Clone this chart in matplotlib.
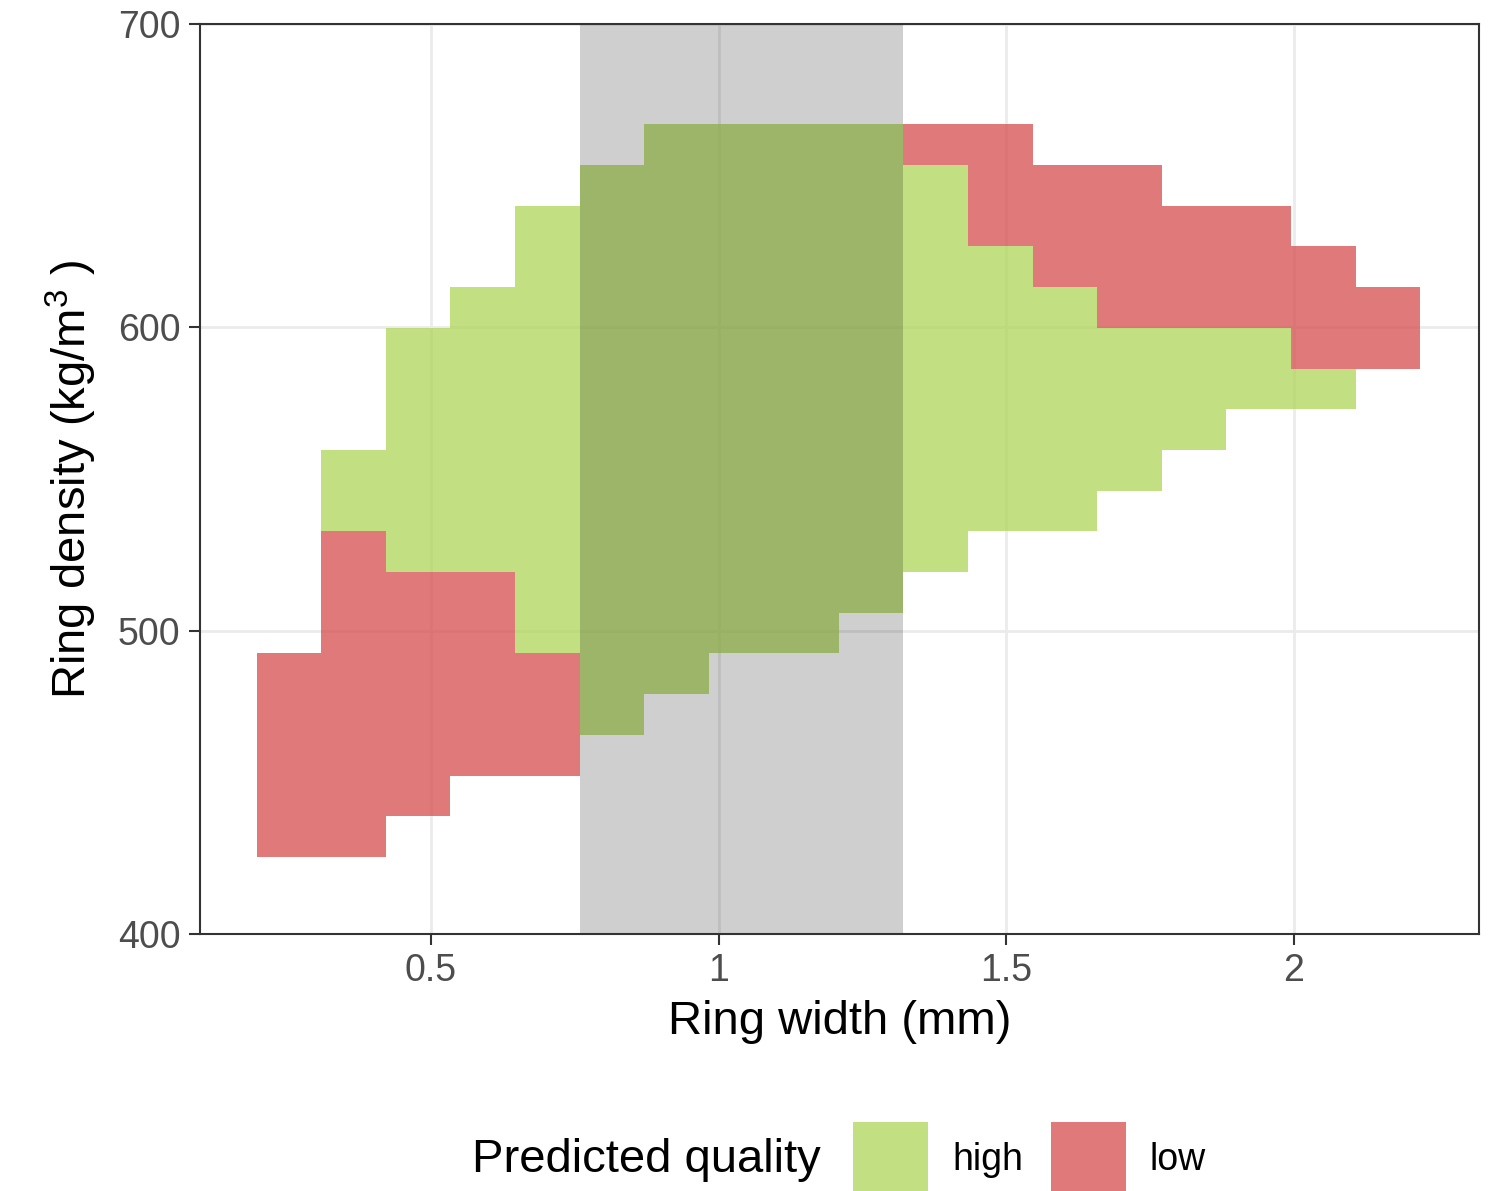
import matplotlib.pyplot as plt
from matplotlib.patches import Rectangle

plt.rcParams["font.family"] = ["Liberation Sans", "DejaVu Sans"]
plt.rcParams["mathtext.fontset"] = "custom"
plt.rcParams["mathtext.rm"] = "Liberation Sans"

# ── Data ──────────────────────────────────────────────────────────────────
# edges of the prediction grid (ring width in mm, ring density in kg/m3)
width_edges = [0.197, 0.309, 0.422, 0.534, 0.647, 0.759, 0.871, 0.984, 1.096, 1.209,
               1.321, 1.433, 1.546, 1.658, 1.771, 1.883, 1.995, 2.108, 2.220]
density_edges = [425.4, 438.8, 452.2, 465.7, 479.1, 492.5, 505.9, 519.3, 532.8, 546.2,
                 559.6, 573.0, 586.4, 599.9, 613.3, 626.7, 640.1, 653.5, 667.0]

# per width bin: (first, last) density bin predicted as "high" / "low"
high_rows = [None, (8, 9), (7, 12), (7, 13), (5, 15), (3, 16), (4, 17), (5, 17), (5, 17),
             (6, 17), (7, 16), (8, 14), (8, 13), (9, 12), (10, 12), (11, 12), (11, 11), None]
low_rows = [(0, 4), (0, 7), (1, 6), (2, 6), (2, 4), None, None, None, None,
            None, (17, 17), (15, 17), (14, 16), (13, 16), (13, 15), (13, 15), (12, 14), (12, 13)]

optimal_width = (0.759, 1.321)   # shaded band

x_ticks = [0.5, 1, 1.5, 2]
x_ticklabels = ["0.5", "1", "1.5", "2"]
y_ticks = [400, 500, 600, 700]

classes = ["high", "low"]
class_colors = {"high": "#AED658", "low": "#D64E4E"}
TILE_ALPHA = 0.75

W, H = 1499, 1191
fig = plt.figure(figsize=(W / 100, H / 100), dpi=100)
ax = fig.add_axes([200 / W, 1 - 934 / H, 1279 / W, 910 / H])

# ── Tiles ──────────────────────────────────────────────────────────────────
for label, rows in (("high", high_rows), ("low", low_rows)):
    for i, span in enumerate(rows):
        if span is None:
            continue
        lo, hi = span
        ax.bar(width_edges[i], density_edges[hi + 1] - density_edges[lo],
               width=width_edges[i + 1] - width_edges[i], bottom=density_edges[lo],
               align="edge", color=class_colors[label], alpha=TILE_ALPHA,
               linewidth=0, zorder=2)

ax.axvspan(*optimal_width, color="black", alpha=0.19, linewidth=0, zorder=3)

# ── Axes styling (theme_bw look) ──────────────────────────────────────────
ax.set_xlim(0.0986, 2.322)
ax.set_ylim(400, 700)
ax.set_xticks(x_ticks)
ax.set_xticklabels(x_ticklabels)
ax.set_yticks(y_ticks)
ax.grid(True, color="#EBEBEB", linewidth=2, zorder=0)
ax.set_axisbelow(True)
for s in ax.spines.values():
    s.set_color("#333333")
    s.set_linewidth(1.5)
    s.set_zorder(5)
ax.tick_params(length=8, width=1.5, color="#333333", labelcolor="#4D4D4D",
               labelsize=27, pad=6)

ax.set_xlabel("Ring width (mm)", fontsize=34)
ax.set_ylabel(r"Ring density (kg/$\mathregular{m^3}$ )", fontsize=34)
ax.xaxis.label.set_verticalalignment("center")
ax.yaxis.label.set_verticalalignment("center")
ax.xaxis.set_label_coords(0.5, -(1022 - 934) / 910)
ax.yaxis.set_label_coords((71 - 200) / 1279, 0.5)

# ── Legend (horizontal, title on the left) ────────────────────────────────
fig.text(472 / W, 1 - 1160 / H, "Predicted quality", fontsize=34,
         ha="left", va="center")
key_x = {"high": 853, "low": 1051}
for label in classes:
    fig.add_artist(Rectangle((key_x[label] / W, 1 - 1197 / H), 75 / W, 75 / H,
                             transform=fig.transFigure, color=class_colors[label],
                             alpha=TILE_ALPHA, linewidth=0))
    fig.text((key_x[label] + 99) / W, 1 - 1160 / H, label, fontsize=27,
             ha="left", va="center")

fig.savefig("out.png", dpi=100)
